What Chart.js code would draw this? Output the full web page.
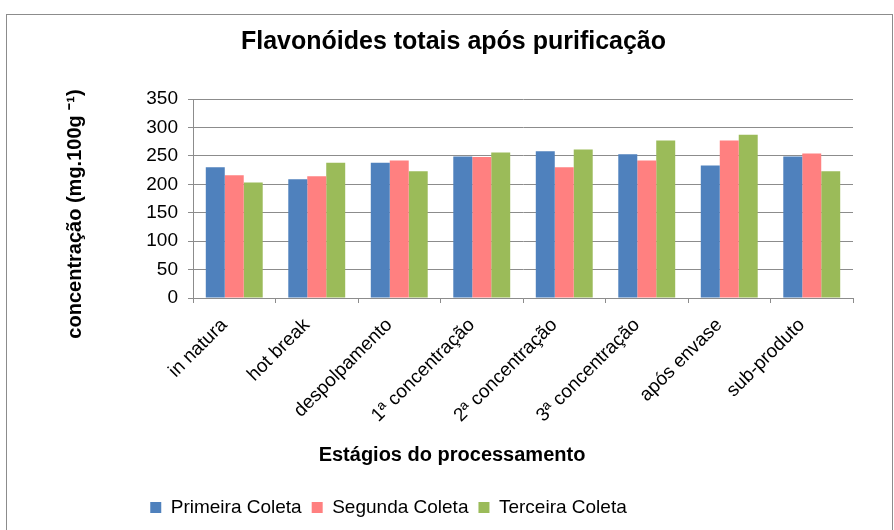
<!doctype html>
<html>

<head>
    <title>Flavonóides totais após purificação</title>
    <script src="https://cdn.jsdelivr.net/npm/chart.js@4/dist/chart.umd.min.js"></script>
    <style>
    body {
        margin: 0;
        background: #fff;
    }
    #canvas-holder {
        width: 894px;
        height: 530px;
    }
    </style>
</head>

<body>
    <div id="canvas-holder">
        <canvas id="chart-area"></canvas>
    </div>
    <script>
    // data
    var estagios = ["in natura", "hot break", "despolpamento", "1ª concentração", "2ª concentração",
                    "3ª concentração", "após envase", "sub-produto"];
    var primeiraColeta = [230, 209, 238, 249, 258, 253, 233, 249];
    var segundaColeta  = [216, 214, 242, 248, 230, 242, 277, 254];
    var terceiraColeta = [203, 238, 223, 256, 261, 277, 287, 223];
    var yTicks = [0, 50, 100, 150, 200, 250, 300, 350];

    var fonte = "'Liberation Sans', Arial, sans-serif";
    var cinza = "#8c8c8c";

    // frame round the whole picture + the two axis titles
    var extras = {
        id: 'extras',
        afterLayout: function(chart) {
            // move title and legend to where they sit in the original
            chart.titleBlock.left += 27;
            chart.titleBlock.right += 27;
            chart.legend.left -= 38;
            chart.legend.right -= 38;
        },
        afterDraw: function(chart) {
            var ctx = chart.ctx;
            ctx.save();
            ctx.strokeStyle = cinza;
            ctx.lineWidth = 1;
            ctx.strokeRect(6.5, 14.5, 886, 600);

            ctx.fillStyle = "#000";
            ctx.font = "bold 20px " + fonte;
            ctx.textAlign = "center";
            ctx.textBaseline = "middle";
            ctx.fillText("Estágios do processamento", 452, 455);

            ctx.translate(75, 214);
            ctx.rotate(-Math.PI / 2);
            ctx.fillText("concentração (mg.100g ⁻¹)", 0, 0);
            ctx.restore();
        }
    };

    var config = {
        type: 'bar',
        data: {
            labels: estagios,
            datasets: [{
                label: 'Primeira Coleta',
                data: primeiraColeta,
                backgroundColor: '#4F81BD'
            }, {
                label: 'Segunda Coleta',
                data: segundaColeta,
                backgroundColor: '#FF8080'
            }, {
                label: 'Terceira Coleta',
                data: terceiraColeta,
                backgroundColor: '#9BBB59'
            }]
        },
        options: {
            responsive: true,
            maintainAspectRatio: false,
            animation: false,
            datasets: {
                bar: {
                    barPercentage: 1,
                    categoryPercentage: 0.69
                }
            },
            layout: {
                padding: { left: 0, right: 41, top: 0, bottom: 3 }
            },
            plugins: {
                title: {
                    display: true,
                    text: 'Flavonóides totais após purificação',
                    color: '#000',
                    font: { family: fonte, size: 25, weight: 'bold' },
                    padding: { top: 27, bottom: 42 }
                },
                legend: {
                    position: 'bottom',
                    labels: {
                        color: '#000',
                        font: { family: fonte, size: 19 },
                        boxWidth: 11,
                        boxHeight: 11,
                        padding: 10
                    }
                },
                tooltip: { enabled: false }
            },
            scales: {
                x: {
                    afterFit: function(scale) { scale.height = 190; },
                    grid: {
                        drawOnChartArea: false,
                        drawTicks: true,
                        tickLength: 5,
                        color: cinza
                    },
                    border: { color: cinza },
                    ticks: {
                        color: '#000',
                        font: { family: fonte, size: 19 },
                        maxRotation: 45,
                        minRotation: 45,
                        labelOffset: -10,
                        padding: 11
                    }
                },
                y: {
                    min: 0,
                    max: 350,
                    afterFit: function(scale) { scale.width = 193; },
                    afterBuildTicks: function(scale) {
                        scale.ticks = yTicks.map(function(v) { return { value: v }; });
                    },
                    grid: {
                        color: cinza,
                        tickLength: 5
                    },
                    border: { color: cinza },
                    ticks: {
                        color: '#000',
                        font: { family: fonte, size: 19 },
                        padding: 10
                    }
                }
            }
        },
        plugins: [extras]
    };

    window.onload = function() {
        var ctx = document.getElementById("chart-area").getContext("2d");
        window.myBar = new Chart(ctx, config);
    };
    </script>
</body>

</html>
